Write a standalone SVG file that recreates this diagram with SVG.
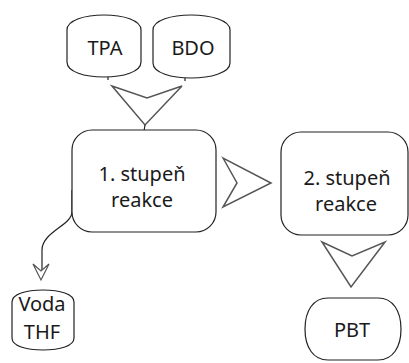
<svg xmlns="http://www.w3.org/2000/svg" width="409" height="363" viewBox="0 0 409 363">
<style>
.n{fill:#fff;stroke:#222;stroke-width:1.2}
.ch{fill:#fff;stroke:#555;stroke-width:1.5;stroke-linejoin:miter}
.t{font-family:"Noto Sans","Open Sans",sans-serif;font-size:20px;fill:#1a1a1a;text-anchor:middle}
.c{fill:none;stroke:#222;stroke-width:1.2}
</style>
<rect width="409" height="363" fill="#fff"/>
<g id="connectors">
<line class="c" x1="108" y1="77" x2="108" y2="80"/>
<line class="c" x1="185" y1="78" x2="185" y2="81"/>
<polygon class="ch" points="112,86 147,98 182,86 145,125"/>
<line class="c" x1="145" y1="125" x2="144" y2="131"/>
<polygon class="ch" points="223,158 237,183 223,207 271,183"/>
<polygon class="ch" points="322,242 352,256 385,242 351,287"/>
<path class="c" d="M72,190 L72,212 C72,225 42,232 42,250 L42,278"/>
<polygon class="ch" points="33,264 41,271 49,264 41,280" style="stroke-width:1.2"/>
</g>
<g id="tpa">
<path class="n" d="M67,30 C67,20 85,15 104,15 C123,15 141,20 141,30 L141,62 C141,72 123,77 104,77 C85,77 67,72 67,62 Z"/>
<text class="t" x="105" y="55">TPA</text>
</g>
<g id="bdo">
<path class="n" d="M153,30 C153,20 172,15 191,15 C210,15 230,20 230,30 L230,63 C230,73 210,78 191,78 C172,78 153,73 153,63 Z"/>
<text class="t" x="193" y="55">BDO</text>
</g>
<g id="stage1">
<rect class="n" x="72" y="130" width="144" height="102" rx="20"/>
<text class="t" x="142" y="181">1. stupeň</text>
<text class="t" x="142" y="207">reakce</text>
</g>
<g id="stage2">
<rect class="n" x="281" y="132" width="127" height="103" rx="20"/>
<text class="t" x="347" y="185">2. stupeň</text>
<text class="t" x="346" y="211">reakce</text>
</g>
<g id="pbt">
<path class="n" d="M328,298 L378,298 C393,298 401,311 401,329 C401,347 393,360 378,360 L328,360 C313,360 305,347 305,329 C305,311 313,298 328,298 Z"/>
<text class="t" x="352" y="337">PBT</text>
</g>
<g id="voda">
<path class="n" d="M12,302 C12,294 26,290 43,290 C60,290 74,294 74,302 L74,338 C74,346 60,350 43,350 C26,350 12,346 12,338 Z"/>
<text class="t" x="42" y="311">Voda</text>
<text class="t" x="42" y="339">THF</text>
</g>
</svg>
